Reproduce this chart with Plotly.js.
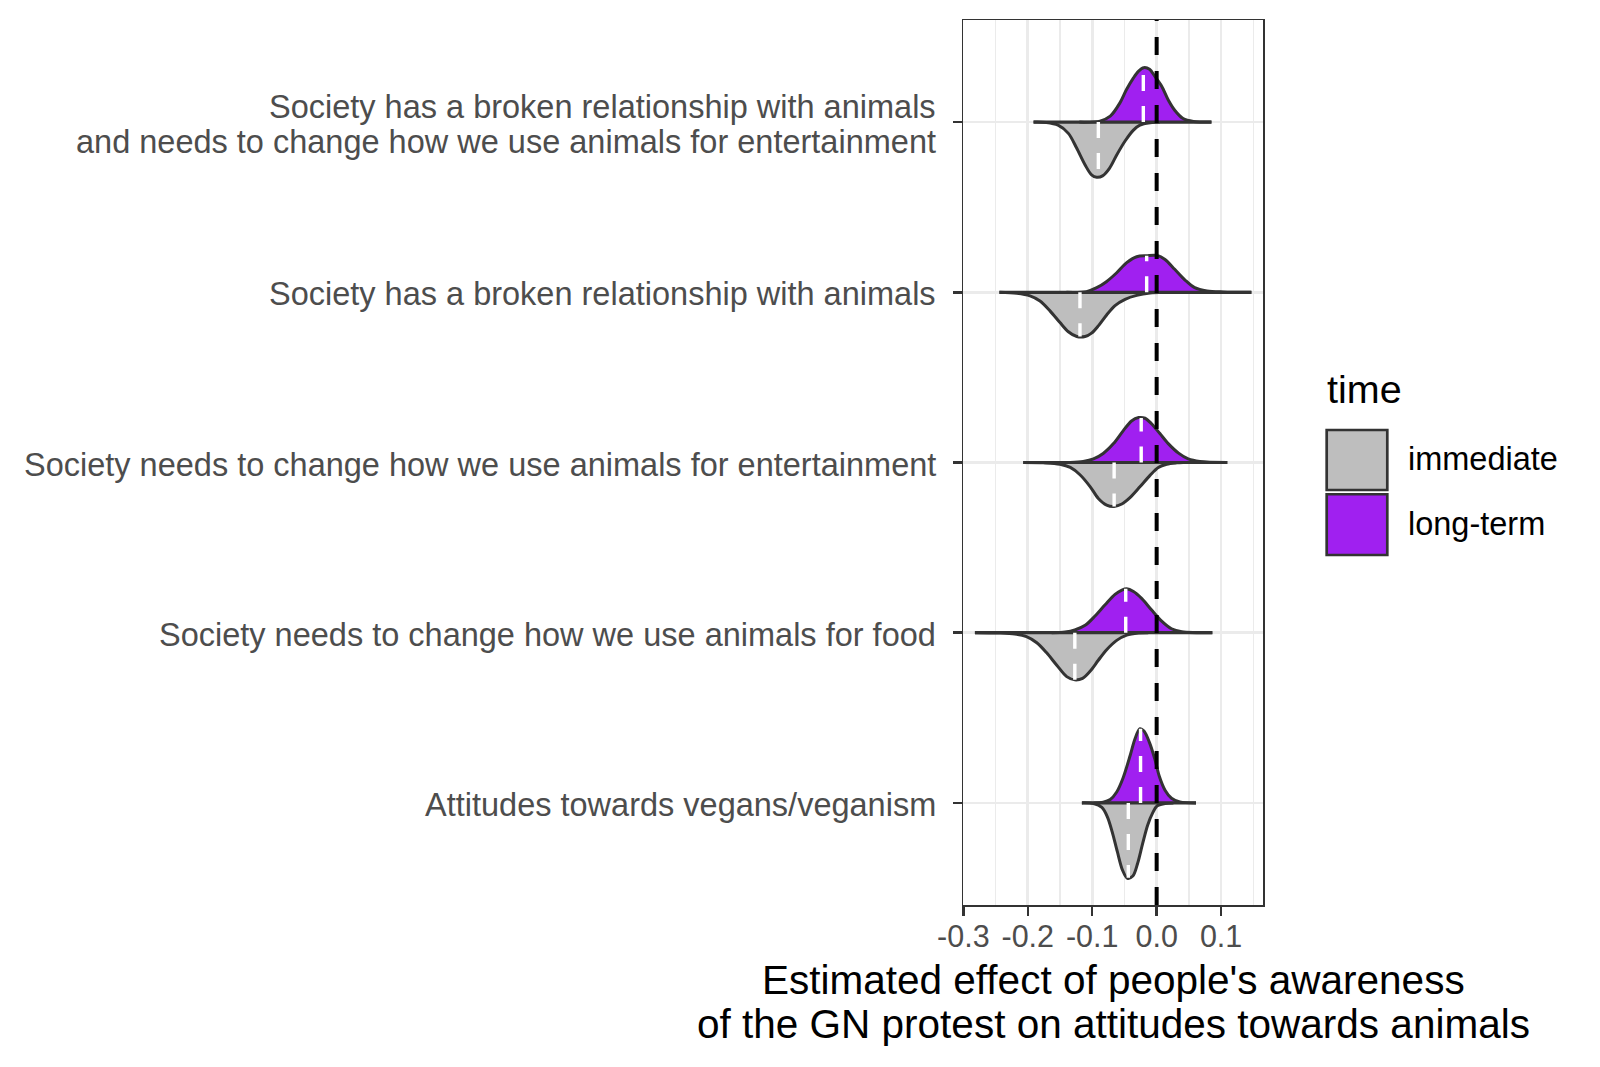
<!DOCTYPE html>
<html>
<head>
<meta charset="utf-8">
<script src="https://cdn.plot.ly/plotly-3.0.1.min.js"></script>
<style>html,body{margin:0;padding:0;background:#fff;}#chart{width:1600px;height:1067px;}</style>
</head>
<body>
<div id="chart"></div>
<script>
// ---------- data ----------
// categories, bottom (position 1) to top (position 5)
const categoryLines = [
  ["Attitudes towards vegans/veganism"],
  ["Society needs to change how we use animals for food"],
  ["Society needs to change how we use animals for entertainment"],
  ["Society has a broken relationship with animals"],
  ["Society has a broken relationship with animals", "and needs to change how we use animals for entertainment"]
];
const xTickVals = [-0.3, -0.2, -0.1, 0.0, 0.1];
const xTickText = ["-0.3", "-0.2", "-0.1", "0.0", "0.1"];
const xMinorVals = [-0.25, -0.15, -0.05, 0.05, 0.15];

// density outlines: x = effect estimate, d = half-width of the violin (in category units)
const vegImmX  = [-0.116,-0.098,-0.085,-0.0765,-0.069,-0.061,-0.053,-0.0455,-0.037,-0.0295,-0.0217,-0.014,-0.0062,0.0005,0.013,0.026];
const vegImmD  = [0,0.004,0.027,0.082,0.17,0.287,0.395,0.443,0.43,0.355,0.238,0.131,0.059,0.018,0.004,0];
const vegLongX = [-0.098,-0.083,-0.072,-0.062,-0.052,-0.041,-0.0336,-0.0259,-0.0197,-0.0114,-0.0026,0.0041,0.013,0.023,0.036,0.061];
const vegLongD = [0,0.004,0.02,0.064,0.148,0.28,0.377,0.436,0.422,0.357,0.254,0.156,0.074,0.027,0.006,0];

const foodImmX  = [-0.282,-0.246,-0.220,-0.202,-0.186,-0.171,-0.155,-0.1396,-0.127,-0.115,-0.103,-0.0905,-0.0776,-0.062,-0.0465,-0.028,-0.013];
const foodImmD  = [0,0.002,0.008,0.023,0.059,0.117,0.191,0.258,0.277,0.268,0.225,0.162,0.1,0.045,0.014,0.002,0];
const foodLongX = [-0.163,-0.142,-0.127,-0.111,-0.0957,-0.080,-0.0646,-0.054,-0.0465,-0.036,-0.023,-0.0078,0.0078,0.023,0.039,0.0864];
const foodLongD = [0,0.004,0.016,0.043,0.098,0.164,0.225,0.25,0.258,0.242,0.2,0.133,0.068,0.023,0.006,0];

const entImmX  = [-0.207,-0.176,-0.150,-0.134,-0.119,-0.103,-0.0905,-0.0776,-0.066,-0.054,-0.041,-0.026,-0.010,0.0026,0.0155,0.031,0.041];
const entImmD  = [0,0.002,0.01,0.029,0.072,0.143,0.211,0.25,0.258,0.244,0.205,0.143,0.074,0.029,0.01,0.002,0];
const entLongX = [-0.134,-0.114,-0.098,-0.083,-0.067,-0.052,-0.039,-0.028,-0.018,-0.008,0.005,0.018,0.034,0.049,0.067,0.1096];
const entLongD = [0,0.006,0.021,0.053,0.111,0.186,0.244,0.264,0.26,0.228,0.17,0.111,0.055,0.021,0.006,0];

const brokenImmX  = [-0.244,-0.217,-0.1965,-0.181,-0.1655,-0.150,-0.137,-0.124,-0.111,-0.101,-0.0905,-0.0776,-0.0646,-0.049,-0.031,-0.0103,0.010];
const brokenImmD  = [0,0.006,0.021,0.051,0.109,0.178,0.232,0.26,0.26,0.24,0.197,0.133,0.078,0.041,0.018,0.004,0];
const brokenLongX = [-0.14,-0.109,-0.093,-0.078,-0.062,-0.0465,-0.031,-0.0155,0.0,0.013,0.028,0.044,0.059,0.078,0.103,0.147];
const brokenLongD = [0,0.004,0.027,0.0625,0.115,0.174,0.209,0.215,0.217,0.193,0.135,0.072,0.027,0.008,0.002,0];

const bothImmX  = [-0.191,-0.171,-0.153,-0.137,-0.124,-0.111,-0.101,-0.093,-0.084,-0.073,-0.062,-0.049,-0.036,-0.026,-0.010,0.005];
const bothImmD  = [0,0.002,0.018,0.066,0.154,0.252,0.31,0.324,0.316,0.27,0.193,0.111,0.047,0.018,0.004,0];
const bothLongX = [-0.12,-0.088,-0.072,-0.057,-0.047,-0.036,-0.028,-0.020,-0.011,-0.003,0.008,0.018,0.028,0.041,0.057,0.085];
const bothLongD = [0,0.006,0.035,0.113,0.19,0.26,0.30,0.32,0.31,0.27,0.21,0.13,0.07,0.021,0.004,0];

// medians (x) and the violin half-width at the median, per category bottom->top
const immMedian  = [-0.044, -0.127, -0.066, -0.119, -0.0905];
const immMedH    = [0.44, 0.277, 0.258, 0.26, 0.324];
const longMedian = [-0.025, -0.048, -0.024, -0.0155, -0.0207];
const longMedH   = [0.435, 0.258, 0.262, 0.215, 0.32];

const timeLevels = ["immediate", "long-term"];
const timeColors = ["#BEBEBE", "#A020F0"];

// ---------- build ----------
const FONT = "Liberation Sans, Arial, Helvetica, sans-serif";
const OUTLINE = "#333333";
const immSets  = [[vegImmX, vegImmD],[foodImmX, foodImmD],[entImmX, entImmD],[brokenImmX, brokenImmD],[bothImmX, bothImmD]];
const longSets = [[vegLongX, vegLongD],[foodLongX, foodLongD],[entLongX, entLongD],[brokenLongX, brokenLongD],[bothLongX, bothLongD]];

const traces = [];
for (let i = 0; i < 5; i++) {
  const pos = i + 1;
  const [ix, id] = immSets[i];
  const [lx, ld] = longSets[i];
  traces.push({
    type: "scatter", mode: "lines", x: ix, y: id.map(d => pos - d),
    fill: "toself", fillcolor: timeColors[0],
    line: {color: OUTLINE, width: 3, shape: "spline", smoothing: 0.9},
    hoverinfo: "skip", showlegend: false
  });
  traces.push({
    type: "scatter", mode: "lines", x: lx, y: ld.map(d => pos + d),
    fill: "toself", fillcolor: timeColors[1],
    line: {color: OUTLINE, width: 3, shape: "spline", smoothing: 0.9},
    hoverinfo: "skip", showlegend: false
  });
  // the flat (split) side of the two halves
  const lo = Math.min(ix[0], lx[0]);
  const hi = Math.max(ix[ix.length - 1], lx[lx.length - 1]);
  traces.push({
    type: "scatter", mode: "lines", x: [lo, hi], y: [pos, pos],
    line: {color: OUTLINE, width: 3.2},
    hoverinfo: "skip", showlegend: false
  });
}
for (let i = 0; i < 5; i++) {
  const pos = i + 1;
  traces.push({
    type: "scatter", mode: "lines",
    x: [immMedian[i], immMedian[i]], y: [pos, pos - immMedH[i]],
    line: {color: "#FFFFFF", width: 3.4, dash: "16px,15px"},
    hoverinfo: "skip", showlegend: false
  });
  traces.push({
    type: "scatter", mode: "lines",
    x: [longMedian[i], longMedian[i]], y: [pos, pos + longMedH[i]],
    line: {color: "#FFFFFF", width: 3.4, dash: "16px,15px"},
    hoverinfo: "skip", showlegend: false
  });
}

const annotations = [];
const labelFont = {family: FONT, size: 32.5, color: "#4D4D4D"};
// y category labels
categoryLines.forEach((lines, i) => {
  const pos = i + 1;
  if (lines.length === 1) {
    annotations.push({xref: "paper", yref: "y", x: 0, y: pos, xanchor: "right", yanchor: "middle",
      xshift: -25, yshift: -2, text: lines[0], showarrow: false, font: labelFont});
  } else {
    annotations.push({xref: "paper", yref: "y", x: 0, y: pos, xanchor: "right", yanchor: "middle",
      xshift: -25, yshift: 15, text: lines[0], showarrow: false, font: labelFont});
    annotations.push({xref: "paper", yref: "y", x: 0, y: pos, xanchor: "right", yanchor: "middle",
      xshift: -25, yshift: -20, text: lines[1], showarrow: false, font: labelFont});
  }
});
// x axis title (two lines)
annotations.push({xref: "paper", yref: "paper", x: 0.5, y: -0.0851, xanchor: "center", yanchor: "middle",
  text: "Estimated effect of people's awareness", showarrow: false, font: {family: FONT, size: 40.5, color: "#000000"}});
annotations.push({xref: "paper", yref: "paper", x: 0.5, y: -0.1348, xanchor: "center", yanchor: "middle",
  text: "of the GN protest on attitudes towards animals", showarrow: false, font: {family: FONT, size: 40.5, color: "#000000"}});
// legend
annotations.push({xref: "paper", yref: "paper", x: 1.2083, y: 0.5825, xanchor: "left", yanchor: "middle",
  text: "time", showarrow: false, font: {family: FONT, size: 39.5, color: "#000000"}});
annotations.push({xref: "paper", yref: "paper", x: 1.4777, y: 0.504, xanchor: "left", yanchor: "middle",
  text: timeLevels[0], showarrow: false, font: {family: FONT, size: 32.5, color: "#000000"}});
annotations.push({xref: "paper", yref: "paper", x: 1.4777, y: 0.4305, xanchor: "left", yanchor: "middle",
  text: timeLevels[1], showarrow: false, font: {family: FONT, size: 32.5, color: "#000000"}});

const shapes = [
  {type: "line", xref: "x", yref: "paper", x0: 0, x1: 0, y0: 0, y1: 1, layer: "above",
   line: {color: "#000000", width: 4, dash: "18px,16px"}},
  {type: "rect", xref: "paper", yref: "paper", x0: 1.2123, x1: 1.4143, y0: 0.4689, y1: 0.5367,
   fillcolor: timeColors[0], line: {color: OUTLINE, width: 2.7}},
  {type: "rect", xref: "paper", yref: "paper", x0: 1.2123, x1: 1.4143, y0: 0.3955, y1: 0.4641,
   fillcolor: timeColors[1], line: {color: OUTLINE, width: 2.7}}
];

const layout = {
  width: 1600, height: 1067,
  margin: {l: 963, r: 337, t: 20, b: 162, pad: 0},
  paper_bgcolor: "#FFFFFF", plot_bgcolor: "#FFFFFF",
  font: {family: FONT},
  showlegend: false,
  xaxis: {
    range: [-0.3005, 0.165], tickmode: "array", tickvals: xTickVals, ticktext: xTickText,
    ticks: "outside", ticklen: 9, tickwidth: 2.5, tickcolor: OUTLINE,
    tickfont: {family: FONT, size: 30.5, color: "#4D4D4D"}, ticklabelstandoff: -5,
    showgrid: true, gridcolor: "#EBEBEB", gridwidth: 2.7,
    minor: {tickmode: "array", tickvals: xMinorVals, showgrid: true, gridcolor: "#EBEBEB", gridwidth: 1.4, ticks: ""},
    showline: true, mirror: true, linecolor: OUTLINE, linewidth: 1.5,
    zeroline: false, fixedrange: true
  },
  yaxis: {
    range: [0.4, 5.6], tickmode: "array", tickvals: [1, 2, 3, 4, 5], showticklabels: false,
    ticks: "outside", ticklen: 9, tickwidth: 2.5, tickcolor: OUTLINE,
    showgrid: true, gridcolor: "#EBEBEB", gridwidth: 2.7,
    showline: true, mirror: true, linecolor: OUTLINE, linewidth: 1.5,
    zeroline: false, fixedrange: true
  },
  annotations: annotations,
  shapes: shapes
};

Plotly.newPlot("chart", traces, layout, {staticPlot: true, displayModeBar: false});
</script>
</body>
</html>
